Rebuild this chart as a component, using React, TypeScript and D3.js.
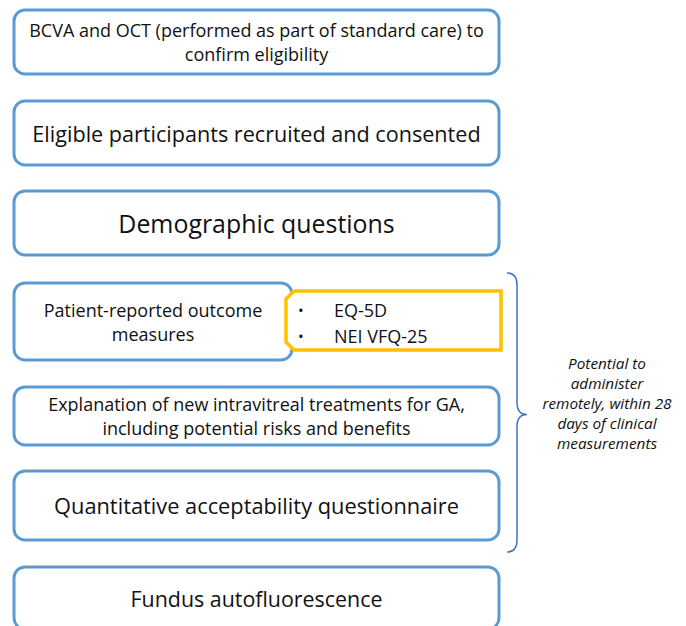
import React from "react";
import * as d3 from "d3";

// flow steps, top to bottom
const steps = [
  ["BCVA and OCT (performed as part of standard care) to", "confirm eligibility"],
  ["Eligible participants recruited and consented"],
  ["Demographic questions"],
  ["Patient-reported outcome", "measures"],
  ["Explanation of new intravitreal treatments for GA,", "including potential risks and benefits"],
  ["Quantitative acceptability questionnaire"],
  ["Fundus autofluorescence"],
];
const stepFont = [18, 21.6, 24.9, 18, 18, 21.8, 21.4];
const stepHeight = [64, 64, 64, 77, 58, 69, 62];
const stepTop = [10, 101, 191, 283, 387, 471, 567];
const promItems = ["EQ-5D", "NEI VFQ-25"];
const braceNote = ["Potential to", "administer", "remotely, within 28", "days of clinical", "measurements"];
const remoteSteps = [3, 4, 5];

const FONT = "'Open Sans', sans-serif";
const BLUE = "#5b9bd5";
const GOLD = "#ffc000";
const NAVY = "#4472c4";

export default function App() {
  const W = 686, H = 626;
  const left = 14, right = 499, promRight = 292;

  const braceTop = stepTop[remoteSteps[0]] - 10;
  const braceBot = stepTop[remoteSteps[2]] + stepHeight[remoteSteps[2]] + 12;
  const braceMid = (braceTop + braceBot) / 2 + 2;
  const bx = 517, bw = 10;
  const bracePath = d3.path();
  bracePath.moveTo(bx - bw, braceTop);
  bracePath.quadraticCurveTo(bx, braceTop, bx, braceTop + 12);
  bracePath.lineTo(bx, braceMid - 12);
  bracePath.quadraticCurveTo(bx, braceMid, bx + bw, braceMid);
  bracePath.quadraticCurveTo(bx, braceMid, bx, braceMid + 12);
  bracePath.lineTo(bx, braceBot - 12);
  bracePath.quadraticCurveTo(bx, braceBot, bx - bw, braceBot);

  // yellow list box with chamfered left side
  const py0 = 291, py1 = 350, px0 = 286, px1 = 501, ch = 8;
  const gold = d3.line()([
    [px0 + ch, py0], [px1, py0], [px1, py1], [px0 + ch, py1],
    [px0, py1 - ch], [px0, py0 + ch], [px0 + ch, py0],
  ]);
  const itemY = d3.scalePoint<string>().domain(promItems).range([310, 336]);

  return (
    <svg width={W} height={H} style={{ position: "absolute", left: 0, top: 0, background: "#fff" }} fontFamily={FONT}>
      {steps.map((lines, i) => {
        const r = i === 3 ? promRight : right;
        const cx = (left + r) / 2;
        const cy = stepTop[i] + stepHeight[i] / 2;
        const fs = stepFont[i];
        const lh = i === 0 || i === 4 ? 24 : 24;
        return (
          <g key={i}>
            <rect x={left} y={stepTop[i]} width={r - left} height={stepHeight[i]} rx={11}
              fill="#fff" stroke={BLUE} strokeWidth={3} />
            {lines.map((t, j) => (
              <text key={j} x={cx} y={cy + (j - (lines.length - 1) / 2) * lh} fontSize={fs}
                textAnchor="middle" dominantBaseline="central" fill="#111">{t}</text>
            ))}
          </g>
        );
      })}
      <path d={gold ?? ""} fill="#fff" stroke={GOLD} strokeWidth={3.5} strokeLinejoin="miter" />
      {promItems.map((t) => (
        <g key={t}>
          <text x={298} y={itemY(t)} fontSize={15} dominantBaseline="central" fill="#111">•</text>
          <text x={334} y={itemY(t)} fontSize={18} dominantBaseline="central" fill="#111">{t}</text>
        </g>
      ))}
      <path d={bracePath.toString()} fill="none" stroke={NAVY} strokeWidth={1.5} />
      {braceNote.map((t, i) => (
        <text key={i} x={607} y={363 + i * 20} fontSize={15.3} fontStyle="italic"
          textAnchor="middle" dominantBaseline="central" fill="#111">{t}</text>
      ))}
    </svg>
  );
}
